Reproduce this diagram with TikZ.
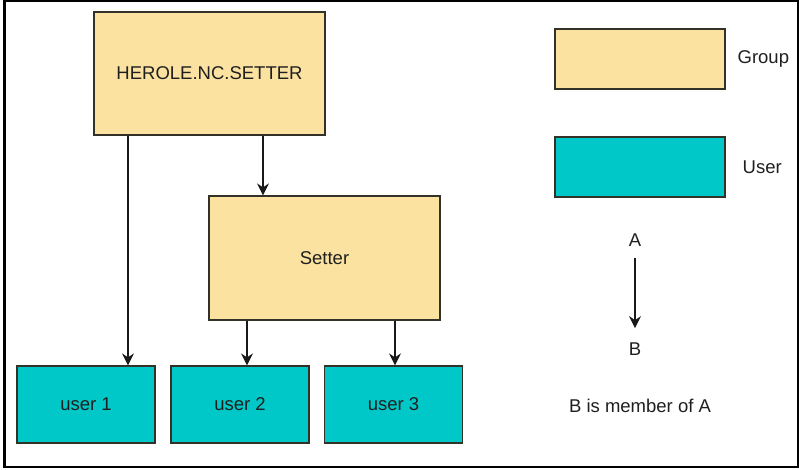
\documentclass[tikz,border=0pt]{standalone}
\usepackage{fontspec}
\setmainfont{Liberation Sans}
\usetikzlibrary{arrows.meta,positioning}

\definecolor{groupfill}{RGB}{251,226,160}
\definecolor{userfill}{RGB}{0,200,200}
\definecolor{boxline}{RGB}{50,50,40}

\begin{document}
\begin{tikzpicture}[
  x=1pt, y=-1pt,
  every node/.style={align=center, text=black!88, font=\fontsize{18.5}{21}\selectfont},
  box/.style={draw=boxline, line width=1.2pt, rectangle, inner sep=0pt},
  group/.style={box, fill=groupfill},
  user/.style={box, fill=userfill, minimum width=138pt, minimum height=77pt},
  legend/.style={box, minimum width=170pt, minimum height=60pt},
  arr/.style={-{Stealth[length=12pt, width=12pt, inset=4pt]}, line width=1.1pt, black!90}
]
\useasboundingbox (0,0) rectangle (799,470);
\draw[line width=2.6pt] (4.5,1) rectangle (798,467);

% groups
\node[group, minimum width=231pt, minimum height=123pt] (herole) at (209.5, 73.5) {HEROLE.NC.SETTER};
\node[group, minimum width=231pt, minimum height=124pt] (setter) at (324.5, 258) {Setter};

% users
\node[user] (u1) at (86, 404.5) {user 1};
\node[user] (u2) at (240, 404.5) {user 2};
\node[user] (u3) at (393.5, 404.5) {user 3};

% memberships
\draw[arr] ([xshift=-81.5pt]herole.south) -- ([xshift=42pt]u1.north);
\draw[arr] ([xshift=53.5pt]herole.south) -- ([xshift=-61.5pt]setter.north);
\draw[arr] ([xshift=-77.5pt]setter.south) -- ([xshift=7pt]u2.north);
\draw[arr] ([xshift=70.5pt]setter.south) -- ([xshift=1.5pt]u3.north);

% legend
\node[legend, fill=groupfill] (lgroup) at (640, 59) {};
\node[right=8.5pt of lgroup] (tgroup) {Group};
\node[legend, fill=userfill] (luser) at (640, 167) {};
\node[right=13.5pt of luser] (tuser) {User};

\node (la) at (635, 240) {A};
\node (lb) at (635, 349) {B};
\draw[arr, shorten <=8pt, shorten >=11pt] (la.south) -- (lb.north);
\node (lnote) at (640, 406) {B is member of A};

\end{tikzpicture}
\end{document}
